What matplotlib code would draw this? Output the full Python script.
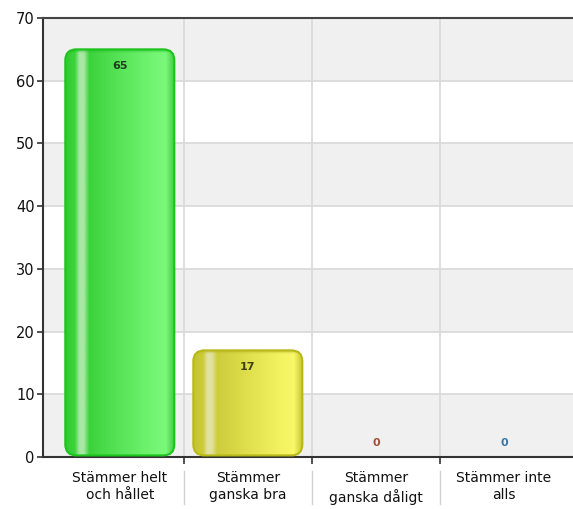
import numpy as np
import matplotlib
matplotlib.use("Agg")
import matplotlib.pyplot as plt
from matplotlib.patches import FancyBboxPatch
from matplotlib.colors import LinearSegmentedColormap, to_rgb

categories = ["Stämmer helt\noch hållet", "Stämmer\nganska bra", "Stämmer\nganska dåligt", "Stämmer inte\nalls"]
values = [65, 17, 0, 0]
label_colors = ["#1f3f1f", "#3f3f10", "#a0503a", "#3a78a8"]
yticks = [0, 10, 20, 30, 40, 50, 60, 70]

bar_styles = [
    dict(edge="#1ec41e", top="#1cb81c",
         stops=["#30cc30", "#3cd43c", "#a8e8a4", "#a8e8a4", "#3cd23c", "#58e458", "#74f674", "#7af87a", "#38cc38"]),
    dict(edge="#b8b818", top="#b0b020",
         stops=["#c4c430", "#cccc38", "#e2e2a0", "#e2e2a0", "#cccc3c", "#e0e04e", "#f4f462", "#f8f868", "#c4c42c"]),
]
stop_pos = [0, 0.09, 0.13, 0.17, 0.22, 0.5, 0.82, 0.92, 1.0]

fig = plt.figure(figsize=(5.73, 5.09), dpi=100)
ax = fig.add_axes([43/573, 52/509, 530/573, 439/509])
ax.set_xlim(-0.6, 3.54)
ax.set_ylim(0, 70)

for i in range(len(yticks) - 1):
    ax.axhspan(yticks[i], yticks[i+1], color="#f0f0f0" if i % 2 == 0 else "white", zorder=0, lw=0)
for y in yticks[1:-1]:
    ax.axhline(y, color="#d8d8d8", lw=1.2, zorder=1)
for b in np.arange(len(categories) - 1) + 0.5:
    ax.axvline(b, color="#d8d8d8", lw=1.2, zorder=1)

bw = 109/128
ppx = 128.0
ppy = 439/70.0
aspect = ppx / ppy
r = 11/128
for i, v in enumerate(values):
    if v <= 0:
        continue
    st = bar_styles[i % len(bar_styles)]
    x0 = i - bw/2
    y0 = 0.25
    patch = FancyBboxPatch((x0, y0), bw, v - y0, boxstyle=f"round,pad=0,rounding_size={r}",
                           mutation_aspect=aspect, facecolor="none", edgecolor=st["edge"], lw=1.5, zorder=5)
    ax.add_patch(patch)
    cmap = LinearSegmentedColormap.from_list("g", list(zip(stop_pos, st["stops"])))
    grad = np.linspace(0, 1, 256).reshape(1, -1)
    im = ax.imshow(grad, cmap=cmap, extent=(x0, x0 + bw, y0, v), aspect="auto", zorder=3, interpolation="bilinear")
    im.set_clip_path(patch)
    cap_h = 4 / ppy
    rgba = np.zeros((64, 1, 4))
    rgba[:, 0, :3] = to_rgb(st["top"])
    rgba[:, 0, 3] = np.linspace(0.0, 0.7, 64)
    im2 = ax.imshow(rgba, extent=(x0, x0 + bw, v - cap_h, v), aspect="auto", zorder=4,
                    interpolation="bilinear", origin="lower")
    im2.set_clip_path(patch)
    ax.text(i, v - 1.8, str(v), ha="center", va="top", fontsize=8, fontweight="bold",
            color=label_colors[i], zorder=6)

for i, v in enumerate(values):
    if v == 0:
        ax.text(i, 1.5, str(v), ha="center", va="bottom", fontsize=8, fontweight="bold",
                color=label_colors[i], zorder=6)

ax.set_xlim(-0.6, 3.54)
ax.set_ylim(0, 70)
ax.set_aspect("auto")

for s in ["left", "bottom", "top"]:
    ax.spines[s].set_color("#333333")
    ax.spines[s].set_linewidth(1.5)
ax.spines["top"].set_color("#444444")
ax.spines["right"].set_visible(False)

ax.set_yticks(yticks)
ax.set_yticklabels([str(t) for t in yticks], fontsize=10.5, color="#111111")
ax.tick_params(axis="y", length=4, width=1.2, color="#333333", pad=2)

ax.set_xticks(np.arange(len(categories) - 1) + 0.5)
ax.set_xticklabels([])
ax.tick_params(axis="x", length=5, width=1.2, color="#333333")
for i, c in enumerate(categories):
    ax.text(i, -2.2, c, ha="center", va="top", fontsize=10, color="#111111",
            linespacing=1.3, clip_on=False)
for b in np.arange(len(categories) - 1) + 0.5:
    ax.plot([b, b], [-2.2, -7.5], color="#d0d0d0", lw=1, clip_on=False)

fig.savefig("out.png", dpi=100)
